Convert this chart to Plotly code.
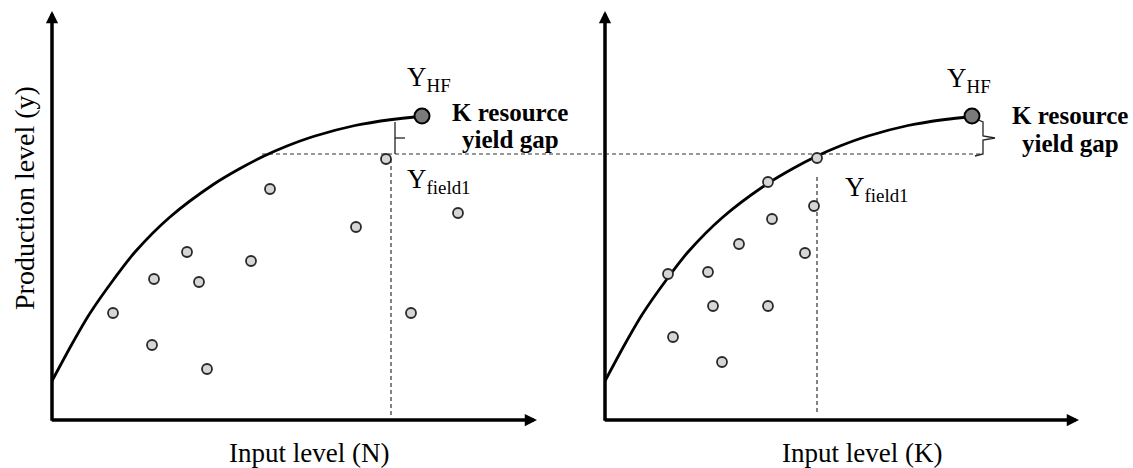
import plotly.graph_objects as go

# ---------------- data (units: 1 unit = 5 px, origin at each panel's axes corner) ----------
curve_x = [0, 4, 7.5, 12.4, 16.6, 23.6, 32.4, 37.6, 42.2, 47, 52.6, 60.6, 68, 73.4]
curve_y = [7.8, 15.2, 21.2, 28.2, 33.6, 40.6, 47.2, 50.3, 52.7, 54.8, 56.8, 58.9, 60.1, 60.7]

left_x = [12.2, 20.4, 20.0, 27.0, 29.4, 31.0, 39.8, 43.6, 60.8, 71.8, 81.2]
left_y = [21.4, 28.2, 15.0, 33.6, 27.6, 10.2, 31.8, 46.2, 38.6, 21.4, 41.4]
left_field1 = (66.8, 52.2)
left_hf = (74.0, 60.8)

right_x = [32.6, 41.8, 33.4, 26.8, 40.0, 12.6, 20.6, 21.6, 32.6, 13.6, 23.4]
right_y = [47.6, 42.8, 40.2, 35.2, 33.4, 29.2, 29.6, 22.8, 22.8, 16.6, 11.6]
right_field1 = (42.4, 52.4)
right_hf = (73.4, 60.8)

gap_line_y = 53.2          # field-1 yield level (dashed)
left_gap_start = 42.0      # where dashed line leaves the left curve
right_gap_end = 75.4
left_vline_x = 67.8
right_vline_x = 42.4
right_vline_top = 48.6

x_tip_left, x_tip_right, y_tip = 97.0, 94.8, 81.8

FONT = "Times New Roman, Liberation Serif, serif"
PT_FILL, PT_EDGE = "#d6d6d6", "#2a2a2a"

fig = go.Figure()

def dashed(x, y, xa, ya):
    fig.add_trace(go.Scatter(x=x, y=y, xaxis=xa, yaxis=ya, mode="lines",
                             line=dict(color="#333333", width=1.2, dash="4px,3px"),
                             hoverinfo="skip", showlegend=False, cliponaxis=False))

def thin(x, y, xa, ya):
    fig.add_trace(go.Scatter(x=x, y=y, xaxis=xa, yaxis=ya, mode="lines",
                             line=dict(color="#222222", width=1.3),
                             hoverinfo="skip", showlegend=False, cliponaxis=False))

# dashed reference lines
dashed([left_gap_start, 110.6], [gap_line_y, gap_line_y], "x", "y")
dashed([left_vline_x, left_vline_x], [left_field1[1], 1.0], "x", "y")
dashed([0, right_gap_end], [gap_line_y, gap_line_y], "x2", "y2")
dashed([right_vline_x, right_vline_x], [right_vline_top, 1.4], "x2", "y2")

# brackets for yield gap
lb = left_vline_x + 0.8
lmid = (59.6 + gap_line_y) / 2
thin([lb, lb, None, lb, lb + 2.0], [59.6, gap_line_y, None, lmid, lmid], "x", "y")
rb = right_hf[0] + 2.2
rtop, rbot = right_hf[1] - 0.8, gap_line_y - 0.4
rmid = (rtop + rbot) / 2
thin([rb - 1.4, rb, rb, rb + 2.4, rb, rb, rb - 1.6],
     [rtop + 0.2, rtop - 0.4, rmid + 0.4, rmid, rmid - 0.4, rbot + 0.4, rbot], "x2", "y2")

# curves
for xa, ya in (("x", "y"), ("x2", "y2")):
    fig.add_trace(go.Scatter(x=curve_x, y=curve_y, xaxis=xa, yaxis=ya, mode="lines",
                             line=dict(color="black", width=2.8, shape="spline", smoothing=0.8),
                             hoverinfo="skip", showlegend=False, cliponaxis=False))

# scatter points
for xs, ys, fld, xa, ya in ((left_x, left_y, left_field1, "x", "y"),
                            (right_x, right_y, right_field1, "x2", "y2")):
    fig.add_trace(go.Scatter(x=xs + [fld[0]], y=ys + [fld[1]], xaxis=xa, yaxis=ya, mode="markers",
                             marker=dict(size=10, color=PT_FILL, line=dict(color=PT_EDGE, width=1.8)),
                             hoverinfo="skip", showlegend=False, cliponaxis=False))

# Y_HF markers
for hf, xa, ya in ((left_hf, "x", "y"), (right_hf, "x2", "y2")):
    fig.add_trace(go.Scatter(x=[hf[0]], y=[hf[1]], xaxis=xa, yaxis=ya, mode="markers",
                             marker=dict(size=15, color="#7a7a7a", line=dict(color="black", width=2)),
                             hoverinfo="skip", showlegend=False, cliponaxis=False))

ann = []
# axes with arrows
for xr, yr, xt in (("x", "y", x_tip_left), ("x2", "y2", x_tip_right)):
    ann.append(dict(x=0, y=y_tip, ax=0, ay=-0.45, xref=xr, yref=yr, axref=xr, ayref=yr,
                    text="", showarrow=True, arrowhead=2, arrowsize=0.7, arrowwidth=3.5,
                    arrowcolor="black"))
    ann.append(dict(x=xt, y=0, ax=-0.35, ay=0, xref=xr, yref=yr, axref=xr, ayref=yr,
                    text="", showarrow=True, arrowhead=2, arrowsize=0.7, arrowwidth=3.5,
                    arrowcolor="black"))

def label(text, x, y, xr, yr, size=27, xanchor="left", yanchor="middle", bold=False, angle=0):
    ann.append(dict(text=f"<b>{text}</b>" if bold else text, x=x, y=y, xref=xr, yref=yr,
                    showarrow=False, xanchor=xanchor, yanchor=yanchor, textangle=angle,
                    font=dict(family=FONT, size=size, color="black")))

label("Y<sub>HF</sub>", 70.6, 68.2, "x", "y")
label("Y<sub>HF</sub>", 68.0, 68.0, "x2", "y2")
label("Y<sub>field1</sub>", 70.6, 47.8, "x", "y")
label("Y<sub>field1</sub>", 47.6, 46.2, "x2", "y2")
label("K resource", 91.6, 61.6, "x", "y", size=25, xanchor="center", bold=True)
label("yield gap", 91.6, 56.2, "x", "y", size=25, xanchor="center", bold=True)
label("K resource", 93.0, 61.0, "x2", "y2", size=25, xanchor="center", bold=True)
label("yield gap", 93.0, 55.4, "x2", "y2", size=25, xanchor="center", bold=True)
label("Production level (y)", -5.6, 44.4, "x", "y", size=28, xanchor="center", angle=-90)
label("Input level (N)", 51.4, -6.6, "x", "y", xanchor="center")
label("Input level (K)", 51.4, -6.6, "x2", "y2", xanchor="center")

ax_common = dict(visible=False, showgrid=False, zeroline=False, fixedrange=True)
fig.update_layout(
    width=1133, height=468,
    margin=dict(l=0, r=0, t=0, b=0),
    paper_bgcolor="white", plot_bgcolor="white",
    showlegend=False,
    xaxis=dict(domain=[0, 605 / 1133], range=[-10.4, 110.6], **ax_common),
    yaxis=dict(domain=[0, 1], range=[-9.6, 84], **ax_common),
    xaxis2=dict(domain=[605 / 1133, 1], range=[0, 105.6], anchor="y2", **ax_common),
    yaxis2=dict(domain=[0, 1], range=[-9.6, 84], anchor="x2", **ax_common),
    annotations=ann,
)

fig.write_html("out.html", config={"displayModeBar": False},
               post_script="document.body.style.margin='0';document.body.style.overflow='hidden';")
